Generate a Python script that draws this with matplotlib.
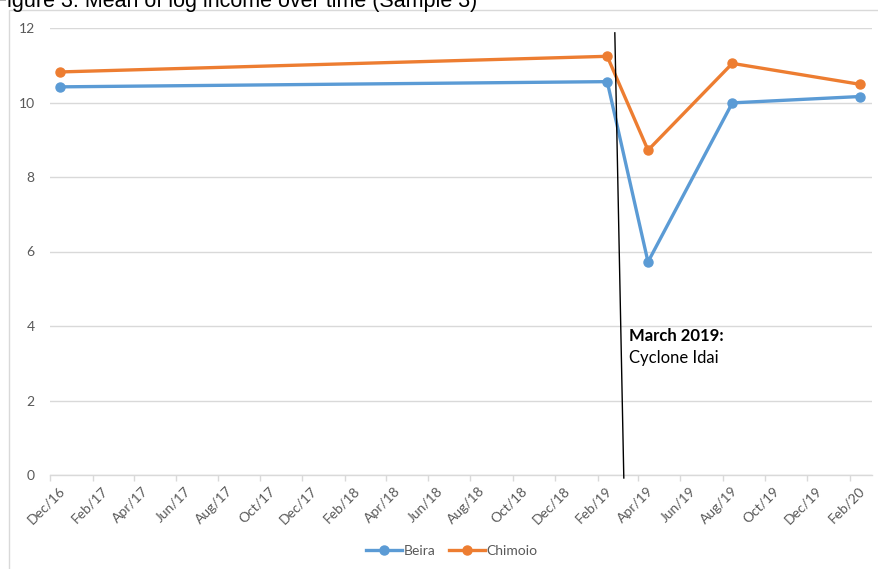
import matplotlib
matplotlib.use('Agg')
import matplotlib.pyplot as plt
import matplotlib.dates as mdates
import matplotlib.transforms as mtransforms
from matplotlib.patches import Rectangle
import numpy as np

# survey rounds (mid-month)
dates = np.array(['2016-12-15', '2019-02-15', '2019-04-15', '2019-08-15', '2020-02-15'], dtype='datetime64[D]')
beira = [10.42, 10.56, 5.72, 9.99, 10.16]
chimoio = [10.82, 11.24, 8.72, 11.05, 10.49]

# hand-drawn marker for the cyclone (slightly slanted in the original)
idai_line_x = np.array(['2019-02-26', '2019-03-11'], dtype='datetime64[D]')
idai_line_y = [11.87, -0.08]

blue = '#5B9BD5'
orange = '#ED7D31'
grey = '#595959'

plt.rcParams['font.family'] = ['Lato', 'DejaVu Sans']

fig = plt.figure(figsize=(8.79, 5.69), dpi=100)
ax = fig.add_axes([50/879, 1-475/569, 822/879, 447/569])

ax.plot(dates, beira, color=blue, lw=2.4, marker='o', ms=6.5, label='Beira', zorder=3)
ax.plot(dates, chimoio, color=orange, lw=2.4, marker='o', ms=6.5, label='Chimoio', zorder=3)

ax.plot(idai_line_x, idai_line_y, color='black', lw=1, clip_on=False, zorder=4)
ax.text(np.datetime64('2019-03-19'), 3.72, 'March 2019:', fontweight='bold', fontsize=12,
        va='center', ha='left')
ax.text(np.datetime64('2019-03-19'), 3.13, 'Cyclone Idai', fontsize=12, va='center', ha='left')

ax.set_xlim(np.datetime64('2016-12-01'), np.datetime64('2020-03-04'))
ax.set_ylim(0, 12)
ax.set_yticks([0, 2, 4, 6, 8, 10, 12])

ax.xaxis.set_major_locator(mdates.MonthLocator(bymonth=[2, 4, 6, 8, 10, 12]))
ax.xaxis.set_major_formatter(mdates.DateFormatter('%b/%y'))

ax.grid(axis='y', color='#d9d9d9', lw=1)
ax.set_axisbelow(True)
for s in ['top', 'right', 'left']:
    ax.spines[s].set_visible(False)
ax.spines['bottom'].set_color('#d9d9d9')
ax.spines['bottom'].set_linewidth(1)

ax.tick_params(axis='y', length=0, pad=11, labelsize=10, labelcolor=grey)
ax.tick_params(axis='x', length=4, width=1, color='#d9d9d9', pad=3, labelsize=10, labelcolor=grey)
offset = mtransforms.ScaledTranslation(6/72, 0, fig.dpi_scale_trans)
for lab in ax.get_xticklabels():
    lab.set_rotation(45)
    lab.set_ha('right')
    lab.set_rotation_mode('anchor')
    lab.set_transform(lab.get_transform() + offset)

fig.legend(loc='center', bbox_to_anchor=(452/879, 1-551/569), ncol=2, frameon=False,
           fontsize=10, labelcolor=grey, handlelength=2.6, handletextpad=0.1, columnspacing=1.0)

# chart area border
fig.patches.append(Rectangle((9/879, -0.05), 1.1, 1.05-10/569, transform=fig.transFigure,
                             fill=False, edgecolor='#d9d9d9', lw=1))

# title sits partly above the cropped image edge, as in the source
fig.text(-6/879, 1-7/569, 'Figure 3: Mean of log income over time (Sample 3)',
         family=['Liberation Sans'], fontsize=15.5, va='baseline', ha='left')

fig.savefig('out.png', dpi=100)
